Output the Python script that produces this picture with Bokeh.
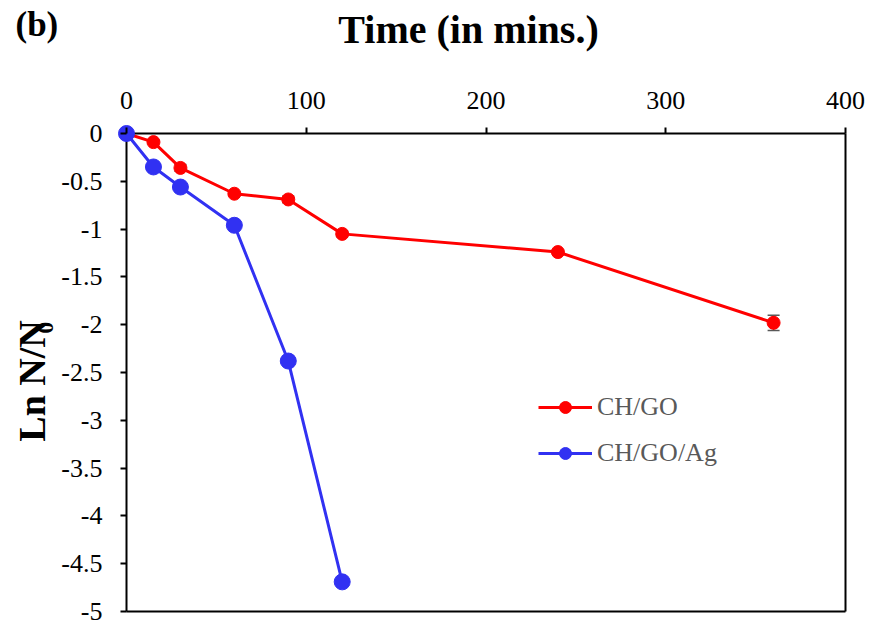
from bokeh.plotting import figure
from bokeh.layouts import column, row
from bokeh.models import (Range1d, FixedTicker, Legend, LegendItem,
                          Whisker, ColumnDataSource, TeeHead)
from bokeh.core.properties import value
from bokeh.embed import file_html
from bokeh.resources import INLINE

# ---------------- data ----------------
time_chgo = [0, 15, 30, 60, 90, 120, 240, 360]
ln_chgo = [0, -0.09, -0.36, -0.63, -0.69, -1.05, -1.24, -1.98]
err_chgo = [0.0, 0.02, 0.035, 0.02, 0.035, 0.03, 0.02, 0.08]

time_chgoag = [0, 15, 30, 60, 90, 120]
ln_chgoag = [0, -0.35, -0.56, -0.96, -2.38, -4.69]

x_ticks = [0, 100, 200, 300, 400]
y_ticks = [0, -0.5, -1, -1.5, -2, -2.5, -3, -3.5, -4, -4.5, -5]
y_tick_labels = ["0", "-0.5", "-1", "-1.5", "-2", "-2.5", "-3", "-3.5", "-4", "-4.5", "-5"]

series_names = ["CH/GO", "CH/GO/Ag"]
title_text = "Time (in mins.)"
panel_text = "(b)"
ylabel_main = "Ln N/N"
ylabel_sub = "0"

# ---------------- geometry (window pixels) ----------------
WIN_W, WIN_H = 870, 626
HEAD_H = 60          # header strip (panel letter + title)
LEFT_W = 58          # left strip (y title)
X_MIN, X_MAX = 0, 400
Y_MIN, Y_MAX = -5, 0
PX_X0, PX_X1 = 126, 845     # window x of X_MIN / X_MAX
PX_Y0, PX_Y1 = 133, 611     # window y of Y_MAX / Y_MIN
PAD_L, PAD_T, PAD_R, PAD_B = 10, 10, 4, 4
MID = 0.3375                 # (ascent - descent) / 2 in em

SX = (PX_X1 - PX_X0) / (X_MAX - X_MIN)
SY = (PX_Y1 - PX_Y0) / (Y_MAX - Y_MIN)


def wx(px):
    return X_MIN + (px - PX_X0) / SX


def wy(py):
    return Y_MAX - (py - PX_Y0) / SY


FONT = "Liberation Serif"
RED = "#FF0000"
BLUE = "#3131F2"
GRAY = "#595959"


def blank(w, h, xr, yr):
    f = figure(width=w, height=h, x_range=xr, y_range=yr,
               x_axis_type=None, y_axis_type=None, toolbar_location=None,
               output_backend="svg", min_border=0)
    f.outline_line_color = None
    f.xgrid.visible = False
    f.ygrid.visible = False
    f.background_fill_color = "white"
    f.border_fill_color = "white"
    return f


# ---------------- header: panel letter + x title ----------------
head = blank(WIN_W, HEAD_H, Range1d(0, WIN_W), Range1d(HEAD_H, 0))
head.text(x=[15], y=[36 - MID * 35], text=[panel_text], text_font=value(FONT),
          text_font_style="bold", text_font_size="35px", text_color="black",
          text_align="left", text_baseline="middle")
head.text(x=[468], y=[42 - MID * 40], text=[title_text], text_font=value(FONT),
          text_font_style="bold", text_font_size="40px", text_color="black",
          text_align="center", text_baseline="middle")

# ---------------- left strip: y title (upward y: value = WIN_H - window y) ----
main_h = WIN_H - HEAD_H
left = blank(LEFT_W, main_h, Range1d(0, LEFT_W), Range1d(0, main_h))
left.text(x=[44 - MID * 38], y=[WIN_H - 426], text=[ylabel_main], angle=90,
          angle_units="deg", text_font=value(FONT), text_font_style="bold",
          text_font_size="38px", text_color="black", text_align="left",
          text_baseline="middle")
left.text(x=[53 - MID * 24], y=[WIN_H - 302], text=[ylabel_sub], angle=90,
          angle_units="deg", text_font=value(FONT), text_font_style="bold",
          text_font_size="24px", text_color="black", text_align="left",
          text_baseline="middle")

# ---------------- main plot ----------------
main_w = WIN_W - LEFT_W
x_range = Range1d(wx(PX_X0 - PAD_L), wx(PX_X1 + PAD_R))
y_range = Range1d(wy(PX_Y1 + PAD_B), wy(PX_Y0 - PAD_T))

p = figure(width=main_w, height=main_h, x_range=x_range, y_range=y_range,
           x_axis_location="above", y_axis_location="left",
           toolbar_location=None, output_backend="svg",
           min_border_left=PX_X0 - PAD_L - LEFT_W,
           min_border_top=PX_Y0 - PAD_T - HEAD_H,
           min_border_right=WIN_W - (PX_X1 + PAD_R),
           min_border_bottom=WIN_H - (PX_Y1 + PAD_B))
p.outline_line_color = None
p.xgrid.visible = False
p.ygrid.visible = False
p.background_fill_color = "white"
p.border_fill_color = "white"

for ax in (p.xaxis[0], p.yaxis[0]):
    ax.axis_line_color = None
    ax.major_tick_line_color = "black"
    ax.major_tick_line_width = 2
    ax.major_tick_out = -(PAD_L - 6)
    ax.major_tick_in = PAD_L
    ax.minor_tick_out = 0
    ax.minor_tick_in = 0
    ax.minor_tick_line_color = None
    ax.major_label_text_font = FONT
    ax.major_label_text_font_size = "26px"
    ax.major_label_text_color = "black"

p.xaxis.ticker = FixedTicker(ticks=x_ticks)
p.xaxis.bounds = (X_MIN, X_MAX)
p.xaxis.major_label_standoff = 15
p.yaxis.ticker = FixedTicker(ticks=y_ticks)
p.yaxis.bounds = (Y_MIN, Y_MAX)
p.yaxis.major_label_standoff = 14
p.yaxis.major_label_overrides = {t: l for t, l in zip(y_ticks, y_tick_labels)}

# frame lines (axis lines + box)
p.segment(x0=[X_MIN, X_MIN, X_MAX, X_MIN], y0=[Y_MAX, Y_MAX, Y_MAX, Y_MIN],
          x1=[X_MAX, X_MIN, X_MAX, X_MAX], y1=[Y_MAX, Y_MIN, Y_MIN, Y_MIN],
          line_color="black", line_width=2)

# error bars
err_src = ColumnDataSource(dict(
    x=time_chgo,
    upper=[v + e for v, e in zip(ln_chgo, err_chgo)],
    lower=[v - e for v, e in zip(ln_chgo, err_chgo)]))
wh = Whisker(base="x", upper="upper", lower="lower", source=err_src,
             level="underlay", line_color=GRAY, line_width=1.5,
             upper_head=TeeHead(size=12, line_color=GRAY, line_width=1.5),
             lower_head=TeeHead(size=12, line_color=GRAY, line_width=1.5))
p.add_layout(wh)

# series
l1 = p.line(time_chgo, ln_chgo, line_color=RED, line_width=3)
s1 = p.scatter(time_chgo, ln_chgo, size=13, fill_color=RED, line_color=RED)
l2 = p.line(time_chgoag, ln_chgoag, line_color=BLUE, line_width=3)
s2 = p.scatter(time_chgoag, ln_chgoag, size=16, fill_color=BLUE, line_color=BLUE)

legend = Legend(items=[LegendItem(label=series_names[0], renderers=[l1, s1]),
                       LegendItem(label=series_names[1], renderers=[l2, s2])],
                location=(538 - (PX_X0 - PAD_L), (PX_Y1 + PAD_B) - 468),
                glyph_width=54, glyph_height=30, label_height=30,
                spacing=16, padding=0, margin=0, label_standoff=5,
                border_line_color=None, background_fill_alpha=0,
                label_text_font=FONT, label_text_font_size="26px",
                label_text_color=GRAY)
p.add_layout(legend)

layout = column(head, row(left, p, spacing=0), spacing=0)

open("out.html", "w").write(file_html(layout, INLINE))
